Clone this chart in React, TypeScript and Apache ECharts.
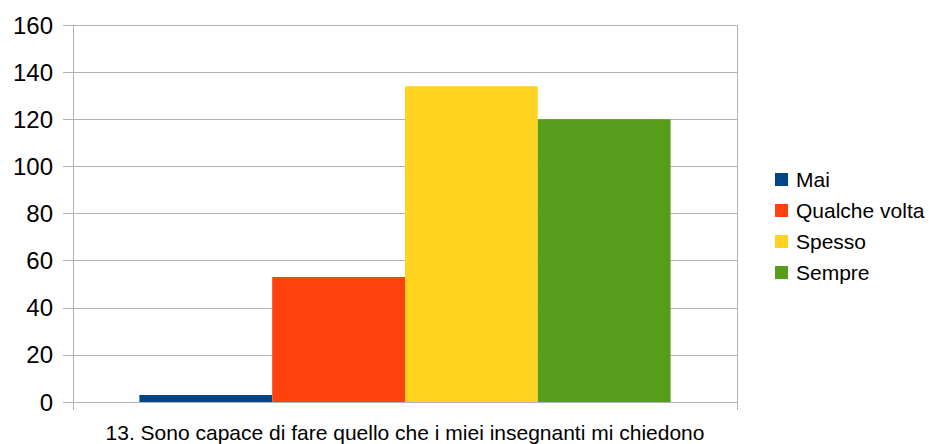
import React, { useEffect, useRef } from "react";
import * as echarts from "echarts";

const categories = ["13. Sono capace di fare quello che i miei insegnanti mi chiedono"];
const seriesNames = ["Mai", "Qualche volta", "Spesso", "Sempre"];
const seriesValues = [[3], [53], [134], [120]];
const seriesColors = ["#004586", "#ff420e", "#ffd320", "#579d1c"];
const yMin = 0;
const yMax = 160;
const yInterval = 20;

export default function App() {
  const ref = useRef<HTMLDivElement>(null);
  useEffect(() => {
    if (!ref.current) return;
    const chart = echarts.init(ref.current, null, { renderer: "svg" });
    const font = "'Liberation Sans', Arial, sans-serif";
    chart.setOption({
      animation: false,
      textStyle: { fontFamily: font },
      grid: { left: 73, right: 192, top: 25, bottom: 42, containLabel: false },
      legend: {
        orient: "vertical",
        left: 770,
        top: 164,
        itemWidth: 13,
        itemHeight: 13,
        itemGap: 10,
        icon: "rect",
        textStyle: { fontSize: 21, color: "#000", fontFamily: font, lineHeight: 21, padding: [0, 0, 0, 3] },
        data: seriesNames,
      },
      xAxis: {
        type: "category",
        data: categories,
        axisLine: { show: true, lineStyle: { color: "#b3b3b3", width: 1 } },
        axisTick: { show: true, length: 8, lineStyle: { color: "#b3b3b3" } },
        splitLine: { show: true, lineStyle: { color: "#b3b3b3", width: 1 } },
        axisLabel: { fontSize: 21, color: "#000", fontFamily: font, margin: 20 },
      },
      yAxis: {
        type: "value",
        min: yMin,
        max: yMax,
        interval: yInterval,
        axisLine: { show: true, lineStyle: { color: "#b3b3b3", width: 1 } },
        axisTick: { show: true, length: 10, lineStyle: { color: "#b3b3b3" } },
        splitLine: { show: true, lineStyle: { color: "#b3b3b3", width: 1 } },
        axisLabel: { fontSize: 24, color: "#000", fontFamily: font, margin: 20 },
      },
      series: seriesNames.map((name, i) => ({
        name,
        type: "bar",
        data: seriesValues[i],
        itemStyle: { color: seriesColors[i] },
        barGap: "0%",
        barCategoryGap: "20%",
      })),
    });
    return () => chart.dispose();
  }, []);
  return <div ref={ref} style={{ width: 929, height: 444, position: "absolute", left: 0, top: 0 }} />;
}
